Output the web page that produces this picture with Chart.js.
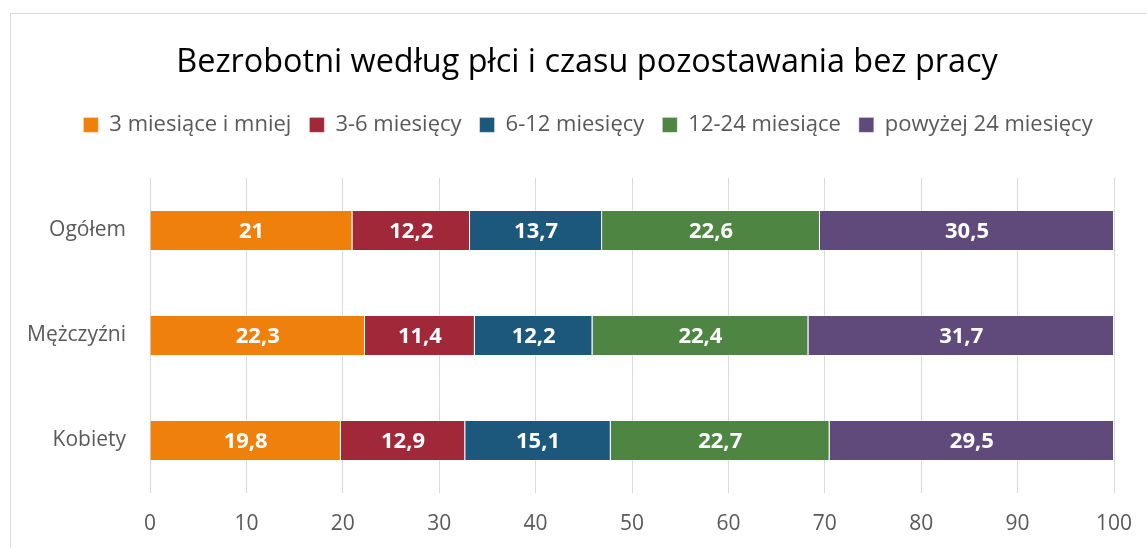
<!DOCTYPE html>
<html>
<head>
<meta charset="utf-8">
<script src="https://cdn.jsdelivr.net/npm/chart.js@4/dist/chart.umd.min.js"></script>
<style>
    body { margin: 0; background: #fff; }
    .wrap { position: relative; width: 1147px; height: 548px; overflow: hidden; }
    .frame { position: absolute; left: 10px; top: 13px; width: 1150px; height: 600px; border: 1px solid #d9d9d9; box-sizing: border-box; }
    canvas { position: absolute; left: 0; top: 0; }
</style>
</head>
<body>
<div class="wrap">
    <div class="frame"></div>
    <canvas id="chart" width="1147" height="548"></canvas>
</div>
<script>
// Data
const categories = ['Ogółem', 'Mężczyźni', 'Kobiety'];
const seriesNames = ['3 miesiące i mniej', '3-6 miesięcy', '6-12 miesięcy', '12-24 miesiące', 'powyżej 24 miesięcy'];
const upTo3 = [21, 22.3, 19.8];
const from3to6 = [12.2, 11.4, 12.9];
const from6to12 = [13.7, 12.2, 15.1];
const from12to24 = [22.6, 22.4, 22.7];
const over24 = [30.5, 31.7, 29.5];
const xTicks = [0, 10, 20, 30, 40, 50, 60, 70, 80, 90, 100];
const colors = ['#EF800C', '#A02838', '#1C587C', '#4E8542', '#604A7B'];

const FONT = "'Open Sans', sans-serif";

// Draw the value in the middle of every bar segment
const barLabels = {
    id: 'barLabels',
    afterDatasetsDraw(chart) {
        const ctx = chart.ctx;
        ctx.save();
        ctx.font = "bold 22px " + FONT;
        ctx.fillStyle = '#ffffff';
        ctx.textAlign = 'center';
        ctx.textBaseline = 'middle';
        chart.data.datasets.forEach((ds, i) => {
            chart.getDatasetMeta(i).data.forEach((bar, j) => {
                const p = bar.getCenterPoint();
                ctx.fillText(String(ds.data[j]).replace('.', ','), p.x, p.y + 1);
            });
        });
        ctx.restore();
    }
};

// Leave some room between the legend and the plot,
// and centre title + legend a bit to the right like the original
const headerTweaks = {
    id: 'headerTweaks',
    beforeLayout(chart) {
        const legend = chart.legend;
        if (legend && !legend._gapPatched) {
            const fit = legend.fit;
            legend.fit = function () {
                fit.call(this);
                this.height += 32;
            };
            legend._gapPatched = true;
        }
    },
    afterLayout(chart) {
        if (chart.titleBlock) chart.titleBlock.left = 60;
        if (chart.legend) chart.legend.left = 62;
    }
};

const allSeries = [upTo3, from3to6, from6to12, from12to24, over24];

new Chart(document.getElementById('chart'), {
    type: 'bar',
    data: {
        labels: categories,
        datasets: allSeries.map((values, i) => ({
            label: seriesNames[i],
            data: values,
            backgroundColor: colors[i],
            borderColor: 'rgba(255,255,255,0.45)',
            borderWidth: 1,
            categoryPercentage: 0.39,
            barPercentage: 1
        }))
    },
    options: {
        indexAxis: 'y',
        responsive: false,
        animation: false,
        layout: { padding: { top: 0, right: 33, bottom: 0, left: 0 } },
        plugins: {
            title: {
                display: true,
                text: 'Bezrobotni według płci i czasu pozostawania bez pracy',
                color: '#000000',
                font: { family: FONT, size: 32.4, weight: 'normal', lineHeight: 1.2 },
                padding: { top: 43, bottom: 14 }
            },
            legend: {
                display: true,
                position: 'top',
                labels: {
                    color: '#595959',
                    font: { family: FONT, size: 22 },
                    boxWidth: 15,
                    boxHeight: 15,
                    padding: 18
                }
            },
            tooltip: { enabled: false }
        },
        scales: {
            x: {
                stacked: true,
                min: 0,
                max: 100,
                afterBuildTicks: (axis) => { axis.ticks = xTicks.map(v => ({ value: v })); },
                afterFit: (axis) => {
                    axis.height = 55;
                    axis.paddingRight = 0;
                },
                grid: { color: '#d9d9d9', drawTicks: false },
                border: { display: false },
                ticks: { color: '#595959', font: { family: FONT, size: 21 }, padding: 18 }
            },
            y: {
                stacked: true,
                afterFit: (axis) => { axis.width = 150; },
                grid: { display: false },
                border: { display: false },
                ticks: { color: '#595959', font: { family: FONT, size: 21 }, padding: 16 }
            }
        }
    },
    plugins: [barLabels, headerTweaks]
});
</script>
</body>
</html>
